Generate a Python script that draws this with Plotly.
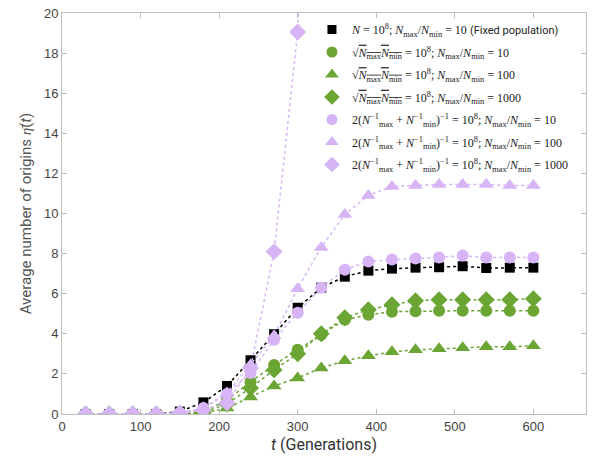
import plotly.graph_objects as go

t = [30, 60, 90, 120, 150, 180, 210, 240, 270, 300, 330, 360, 390, 420, 450, 480, 510, 540, 570, 600]

fixed_10 = [0, 0, 0, 0, 0.12, 0.58, 1.4, 2.68, 3.98, 5.3, 6.3, 6.85, 7.15, 7.25, 7.3, 7.32, 7.37, 7.28, 7.3, 7.3]
geo_10 = [0, 0, 0, 0, 0, 0.12, 0.7, 1.6, 2.45, 3.2, 3.95, 4.7, 4.95, 5.1, 5.12, 5.15, 5.15, 5.15, 5.15, 5.15]
geo_100 = [0, 0, 0, 0, 0, 0.05, 0.3, 0.85, 1.4, 1.8, 2.3, 2.65, 2.9, 3.1, 3.2, 3.25, 3.3, 3.35, 3.35, 3.4]
geo_1000 = [0, 0, 0, 0, 0, 0.08, 0.5, 1.3, 2.2, 3.0, 4.0, 4.8, 5.2, 5.45, 5.65, 5.7, 5.7, 5.7, 5.7, 5.75]
har_10 = [0, 0, 0, 0, 0.05, 0.3, 1.0, 2.05, 3.7, 5.05, 6.3, 7.2, 7.6, 7.7, 7.75, 7.8, 7.9, 7.8, 7.8, 7.8]
har_100 = [0, 0, 0, 0, 0.05, 0.3, 1.05, 2.45, 3.9, 6.25, 8.3, 9.95, 10.9, 11.35, 11.4, 11.45, 11.45, 11.45, 11.4, 11.4]
t_har_1000 = [30, 60, 90, 120, 150, 180, 210, 240, 270, 300, 330]
har_1000 = [0, 0, 0, 0, 0.05, 0.2, 0.55, 2.3, 8.1, 19.05, 45]

BLACK = "#000000"
GREEN = "#6ba533"
PURPLE = "#d6b4f6"

M = "<i>N</i><sub>max</sub>/<i>N</i><sub>min</sub>"
GEO = "√<span style='text-decoration:overline'><i>N</i><sub>max</sub><i>N</i><sub>min</sub></span>"
HAR = "2(<i>N</i><sup>−1</sup><sub>max</sub> + <i>N</i><sup>−1</sup><sub>min</sub>)<sup>−1</sup>"

names = [
    f"<i>N</i> = 10<sup>8</sup>; {M} = 10 <span style='font-family:Roboto;font-size:11px'>(Fixed population)</span>",
    f"{GEO} = 10<sup>8</sup>; {M} = 10",
    f"{GEO} = 10<sup>8</sup>; {M} = 100",
    f"{GEO} = 10<sup>8</sup>; {M} = 1000",
    f"{HAR} = 10<sup>8</sup>; {M} = 10",
    f"{HAR} = 10<sup>8</sup>; {M} = 100",
    f"{HAR} = 10<sup>8</sup>; {M} = 1000",
]

series = [
    (t, fixed_10, BLACK, "square", 10),
    (t, geo_10, GREEN, "circle", 12),
    (t, geo_100, GREEN, "triangle-up", 13),
    (t, geo_1000, GREEN, "diamond", 13),
    (t, har_10, PURPLE, "circle", 12),
    (t, har_100, PURPLE, "triangle-up", 13),
    (t_har_1000, har_1000, PURPLE, "diamond", 13),
]

fig = go.Figure()
for i, ((x, y, c, sym, sz), nm) in enumerate(zip(series, names)):
    fig.add_trace(go.Scatter(
        x=x, y=y, name=nm, mode="lines+markers", legendgroup=f"g{i}",
        showlegend=False,
        line=dict(color=c, width=1.5, dash="dot"),
        marker=dict(color=c, symbol=sym, size=sz),
        cliponaxis=True,
    ))
# legend entries: markers only, as in the reference legend
for i, ((x, y, c, sym, sz), nm) in enumerate(zip(series, names)):
    fig.add_trace(go.Scatter(
        x=[None], y=[None], name=nm, mode="markers", legendgroup=f"g{i}",
        marker=dict(color=c, symbol=sym, size=sz - 1),
        hoverinfo="skip",
    ))

axis_common = dict(
    showline=True, linecolor="#bdbdbd", linewidth=1, mirror="ticks",
    ticks="inside", ticklen=5, tickcolor="#bdbdbd",
    showgrid=False, zeroline=False,
    tickfont=dict(family="Liberation Sans, Arial", size=13, color="#444444"),
)

fig.update_xaxes(range=[0, 667], tickvals=[0, 100, 200, 300, 400, 500, 600],
                 title=dict(text="<i>t</i> (Generations)", font=dict(family="Roboto", size=16, color="#333333"), standoff=6),
                 **axis_common)
fig.update_yaxes(range=[0, 20], tickvals=list(range(0, 21, 2)),
                 title=dict(text="Average number of origins <i>η̄</i>(<i>t</i>)", font=dict(family="Roboto", size=15, color="#555555"), standoff=8),
                 **axis_common)

fig.update_layout(
    width=592, height=461,
    margin=dict(l=62, r=6, t=13, b=47),
    plot_bgcolor="white", paper_bgcolor="white",
    legend=dict(x=0.477, y=0.995, xanchor="left", yanchor="top",
                bgcolor="rgba(255,255,255,0)",
                font=dict(family="Liberation Serif, DejaVu Serif", size=12, color="#222222"),
                tracegroupgap=3.5, itemwidth=30, traceorder="grouped"),
    showlegend=True,
)

fig.write_html("out.html")
